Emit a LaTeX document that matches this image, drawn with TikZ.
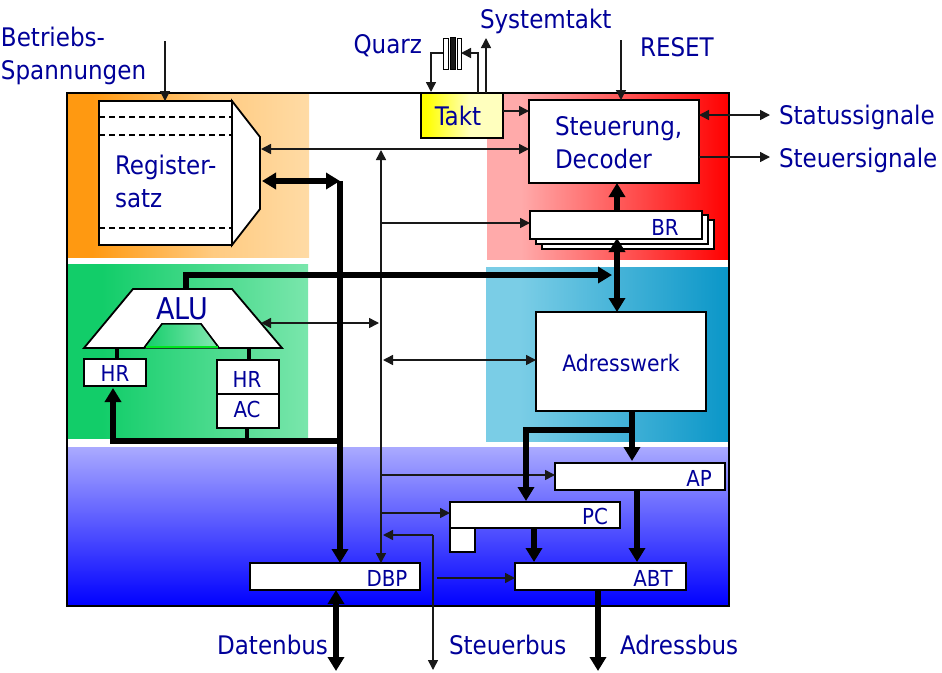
\documentclass[tikz,border=0pt]{standalone}
\usepackage{fontspec}
\setmainfont{DejaVu Sans Condensed}
\usetikzlibrary{arrows.meta,shapes.geometric}
\definecolor{txt}{RGB}{0,0,153}
\definecolor{orA}{RGB}{255,153,17}\definecolor{orB}{RGB}{255,219,165}
\definecolor{grA}{RGB}{18,205,105}\definecolor{grB}{RGB}{122,230,172}
\definecolor{reA}{RGB}{255,170,170}\definecolor{reB}{RGB}{255,0,0}
\definecolor{blA}{RGB}{122,205,230}\definecolor{blB}{RGB}{10,150,200}
\definecolor{viA}{RGB}{170,170,255}\definecolor{viB}{RGB}{0,0,255}
\definecolor{taA}{RGB}{255,255,0}\definecolor{taB}{RGB}{255,255,190}
\pgfdeclarehorizontalshading{orshade}{100bp}{color(0bp)=(orA);color(30bp)=(orA);color(55bp)=(orB!75!orA);color(75bp)=(orB);color(100bp)=(orB)}
\pgfdeclarehorizontalshading{grshade}{100bp}{color(0bp)=(grA);color(32bp)=(grA);color(75bp)=(grB);color(100bp)=(grB)}
\pgfdeclarehorizontalshading{reshade}{100bp}{color(0bp)=(reA);color(32bp)=(reA);color(75bp)=(reB);color(100bp)=(reB)}
\pgfdeclarehorizontalshading{blshade}{100bp}{color(0bp)=(blA);color(32bp)=(blA);color(75bp)=(blB);color(100bp)=(blB)}
\pgfdeclarehorizontalshading{tashade}{100bp}{color(0bp)=(taA);color(28bp)=(taA);color(55bp)=(taB);color(100bp)=(taB)}
\tikzset{
  x=1pt,y=-1pt,
  region/.style={anchor=north west,inner sep=0pt,outer sep=0pt},
  box/.style={draw=black,fill=white,line width=1.8pt,anchor=north west,inner sep=0pt,outer sep=0pt},
  lbl/.style={text=txt,font=\fontsize{25.6}{33}\selectfont,inner sep=0pt,outer sep=0pt},
  lbls/.style={text=txt,font=\fontsize{22}{26}\selectfont,inner sep=0pt,outer sep=0pt},
  thinar/.style={draw=black!90,line width=1.5pt,-{Triangle[length=10pt,width=10pt]}},
  thinbi/.style={draw=black!90,line width=1.5pt,{Triangle[length=10pt,width=10pt]}-{Triangle[length=10pt,width=10pt]}},
  thickar/.style={draw=black,line width=5.5pt,-{Triangle[length=14pt,width=16pt]}},
  thickbi/.style={draw=black,line width=5.5pt,{Triangle[length=14pt,width=16pt]}-{Triangle[length=14pt,width=16pt]}},
  midln/.style={draw=black,line width=4.5pt},
}
\newcommand{\rgn}[6]{\node[region,minimum width=#4-#2,minimum height=#5-#3,#6] (#1) at (#2,#3) {};}
\newcommand{\pbox}[6][]{\node[box,minimum width=#5-#3,minimum height=#6-#4,#1] (#2) at (#3,#4) {};}
\begin{document}
\begin{tikzpicture}
\useasboundingbox (0,0) rectangle (942,672);
% frame
\node[box,minimum width=662pt,minimum height=513pt] (frame) at (67,93) {};
% coloured regions
\rgn{rOr}{68}{94}{309}{257}{shading=orshade}
\rgn{rGr}{68}{264}{308}{438}{shading=grshade}
\rgn{rRe}{487}{94}{729}{259}{shading=reshade}
\rgn{rBl}{486}{267}{729}{441}{shading=blshade}
\rgn{rVi}{68}{447}{729}{606}{top color=viA,bottom color=viB}
\draw[line width=1.8pt] (frame.north west) rectangle (frame.south east);
% Registersatz
\pbox{reg}{99}{101}{232}{245}
\path[draw=black,fill=white,line width=1.8pt] (232,101) -- (260,137) -- (260,209) -- (232,245) -- cycle;
\foreach \yy in {117,135,228} \draw[line width=1.2pt,dash pattern=on 6pt off 4pt] (reg.west |- 0,\yy) -- (reg.east |- 0,\yy);
\node[lbl,anchor=west,align=left] (regt) at (115,181) {Register-\\satz};
% ALU
\node[inner sep=0,outer sep=0] (alutop) at (186,289) {};
\path[draw=black,fill=white,line width=1.8pt] (133,289) -- (232,289) -- (282,348) -- (219,348) -- (201,324) -- (162,324) -- (144,348) -- (84,348) -- cycle;
\path[left color=grA,right color=grB!90!white,draw=black,line width=1.4pt] (144,348) -- (162,324) -- (201,324) -- (219,348) -- cycle;
\draw[line width=2.5pt,color=green!85!cyan!90!black] (146,347) -- (218,347);
\node[lbl,font=\fontsize{30}{36}\selectfont] (alut) at (182,309) {ALU};
\pbox{hrl}{84}{359}{146}{386}
\node[lbls] (hrlt) at (115,373) {HR};
\pbox{hrac}{217}{360}{279}{428}
\draw[line width=1.8pt] (hrac.west |- 0,394) -- (hrac.east |- 0,394);
\node[lbls] (hrt) at (247,379) {HR};
\node[lbls] (act) at (247,409) {AC};
% Takt
\node[box,minimum width=82pt,minimum height=45pt,shading=tashade] (takt) at (421,93) {};
\node[lbl] (taktt) at (458,116) {Takt};
% Steuerung
\pbox{steu}{529}{100}{699}{183}
\node[lbl,anchor=west,align=left] (steut) at (555,143) {Steuerung,\\Decoder};
% BR stack
\pbox{brc}{542}{220}{714}{249}
\pbox{brb}{536}{215}{708}{244}
\pbox{br}{530}{211}{702}{239}
\node[lbls] (brt) at (665,227) {BR};
% Adresswerk
\pbox{adr}{536}{312}{706}{411}
\node[lbls,font=\fontsize{22.6}{26}\selectfont] (adrt) at (621,363) {Adresswerk};
% AP PC ABT DBP
\pbox{ap}{555}{463}{725}{490}
\node[lbls] (apt) at (699,478) {AP};
\pbox{pc}{450}{502}{620}{528}
\node[lbls] (pct) at (595,516) {PC};
\pbox{pcs}{450}{528}{475}{552}
\pbox{abt}{515}{563}{686}{590}
\node[lbls] (abtt) at (653,578) {ABT};
\pbox{dbp}{250}{563}{420}{590}
\node[lbls] (dbpt) at (387,578) {DBP};
% Quarz symbol
\node[draw=black,fill=white,line width=1pt,anchor=north west,inner sep=0,outer sep=0,minimum width=5pt,minimum height=31pt] (qa) at (443,38) {};
\node[draw=black,fill=black!90,line width=1pt,anchor=north west,inner sep=0,outer sep=0,minimum width=5pt,minimum height=32pt] (qb) at (450,37) {};
\node[draw=black,fill=white,line width=1pt,anchor=north west,inner sep=0,outer sep=0,minimum width=4pt,minimum height=31pt] (qc) at (457,38) {};
% free ends
\coordinate (betr) at (165,41);
\coordinate (rst) at (621,40);
\coordinate (stS) at (770,115);
\coordinate (stC) at (770,157);
\coordinate (sysT) at (486,38);
\coordinate (busD) at (336,671);
\coordinate (busS) at (433,670);
\coordinate (busA) at (598,671);
\coordinate (trunk) at (340,181);
\coordinate (ctl) at (381,150);
% labels
\node[lbl,anchor=north west,align=left] (bt) at (1,27) {Betriebs-\\Spannungen};
\node[lbl,anchor=east] (qt) at (422,46) {Quarz};
\node[lbl,anchor=west] (syt) at (480,21) {Systemtakt};
\node[lbl,anchor=west] (rt) at (640,47) {RESET};
\node[lbl,anchor=west] (sst) at (779,117) {Statussignale};
\node[lbl,anchor=west] (sct) at (779,160) {Steuersignale};
\node[lbl,anchor=east] (dbt) at (328,645) {Datenbus};
\node[lbl,anchor=west] (sbt) at (449,645) {Steuerbus};
\node[lbl,anchor=west] (abbt) at (620,645) {Adressbus};
% thin connectors
\draw[thinar] (betr) -- (betr |- reg.north);
\draw[thinar] (rst) -- (rst |- steu.north);
\draw[thinbi] (steu.east |- stS) -- (stS);
\draw[thinar] (steu.east |- stC) -- (stC);
\draw[thinar] (qa.west |- 0,53) -- (431,53) -- (431,92);
\draw[thinar] (478,93) -- (478,53) -- (qc.east |- 0,53);
\draw[thinar] (sysT |- takt.north) -- (sysT);
\draw[thinar] (takt.east |- 0,111) -- (steu.west |- 0,111);
\draw[thinbi] (261,149) -- (steu.west |- 0,149);
\draw[thinbi] (ctl) -- (ctl |- dbp.north);
\draw[thinar] (381,223) -- (br.west |- 0,223);
\draw[thinbi] (261,323) -- (379,323);
\draw[thinbi] (383,360) -- (adr.west |- 0,360);
\draw[thinar] (381,475) -- (ap.west |- 0,475);
\draw[thinar] (381,513) -- (pc.west |- 0,513);
\draw[thinar] (433,535) -- (383,535);
\draw[thinar] (433,535) -- (busS);
\draw[thinar] (437,578) -- (abt.west |- 0,578);
% thick connectors
\draw[thickbi] (262,181) -- (trunk);
\draw[thickar] (trunk) -- (trunk |- dbp.north);
\draw[thickar] (alutop.center) -- (186,275) -- (612,275);
\draw[thickar] (br.north -| 617,0) -- (steu.south -| 617,0);
\draw[thickbi] (617,238) -- (adr.north -| 617,0);
\draw[thickar] (632,411) -- (632,461);
\draw[thickar] (632,430) -- (526,430) -- (526,501);
\draw[midln] (117,348) -- (117,359);
\draw[midln] (249,348) -- (249,360);
\draw[midln] (247,428) -- (247,441);
\draw[thickar] (340,441) -- (113,441) -- (113,388);
\draw[thickar] (534,528) -- (534,562);
\draw[thickar] (637,490) -- (637,562);
\draw[thickar] (abt.south -| busA) -- (busA);
\draw[thickbi] (336,590) -- (busD);
\end{tikzpicture}
\end{document}
